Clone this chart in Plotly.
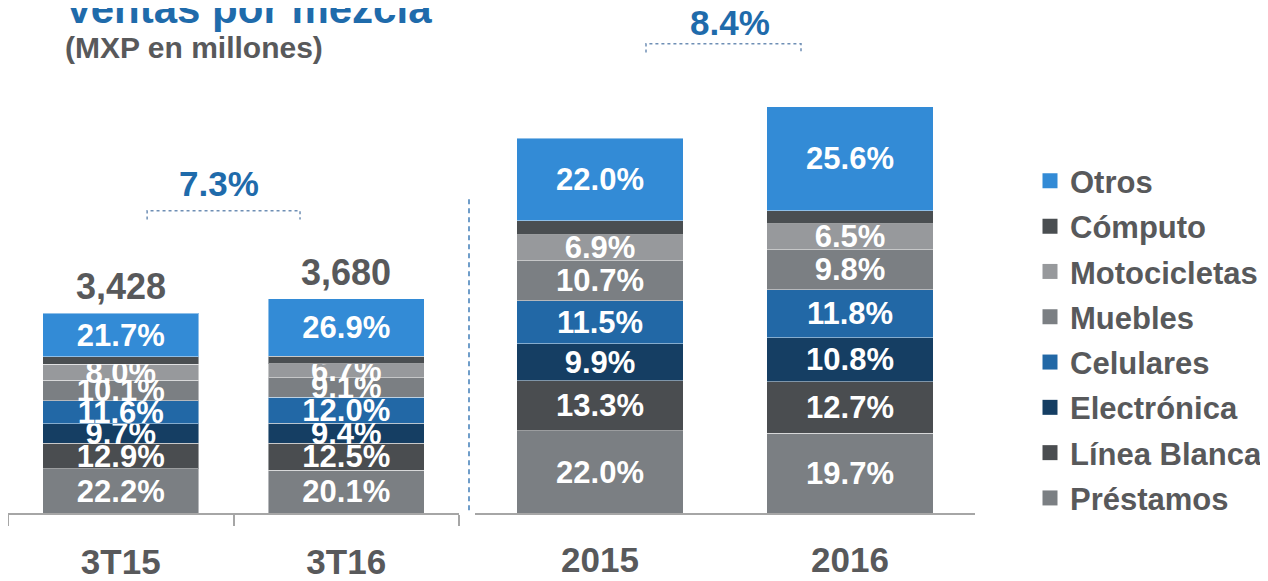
import plotly.graph_objects as go

# ---------------- data ----------------
segments = ['Préstamos', 'Línea Blanca', 'Electrónica', 'Celulares',
            'Muebles', 'Motocicletas', 'Cómputo', 'Otros']
periods_q = ['3T15', '3T16']
periods_y = ['2015', '2016']
totals_q = [3428, 3680]
totals_y = [10019, 10862]
pct_3T15 = [22.2, 12.9, 9.7, 11.6, 10.1, 8.0, 3.8, 21.7]
pct_3T16 = [20.1, 12.5, 9.4, 12.0, 9.1, 6.7, 3.3, 26.9]
pct_2015 = [22.0, 13.3, 9.9, 11.5, 10.7, 6.9, 3.7, 22.0]
pct_2016 = [19.7, 12.7, 10.8, 11.8, 9.8, 6.5, 3.1, 25.6]
show_label = [True, True, True, True, True, True, False, True]
growth_q = '7.3%'
growth_y = '8.4%'

colors = ['#7b7f83', '#4a4d50', '#153e63', '#2268a6',
          '#7b7f83', '#97999c', '#4a4e51', '#338bd6']

# page body has an 8px margin: figure is drawn from (8, 8)
OFF = 8
W, H = 1260, 573
FONT = 'Liberation Sans, Arial, sans-serif'
GRAY_TXT = '#58595b'
BLUE_TXT = '#1f6bab'


def py(p):
    return 1 - (p - OFF) / H


def px(p):
    return max(0.0, (p - OFF) / W)


fig = go.Figure()

for i, seg in enumerate(segments):
    for (periods, totals, pcts_list, xa, ya) in [
        (periods_q, totals_q, [pct_3T15, pct_3T16], 'x', 'y'),
        (periods_y, totals_y, [pct_2015, pct_2016], 'x2', 'y2'),
    ]:
        vals = [totals[k] * pcts_list[k][i] / 100 for k in range(2)]
        txt = [f'{pcts_list[k][i]:.1f}%' if show_label[i] else '' for k in range(2)]
        fig.add_trace(go.Bar(
            x=periods, y=vals, name=seg, legendgroup=seg, showlegend=False,
            xaxis=xa, yaxis=ya,
            marker=dict(color=colors[i], line=dict(color='rgba(255,255,255,0.45)', width=1)),
            width=0.69 if xa == 'x' else 0.667,
            text=txt, textposition='inside', insidetextanchor='middle',
            textangle=0, constraintext='none',
            textfont=dict(family=FONT, size=31, color='white', weight='bold'),
            hoverinfo='skip',
        ))
    # legend entry with a larger square key
    fig.add_trace(go.Scatter(
        x=[None], y=[None], mode='markers', name=seg, legendgroup=seg,
        legendrank=100 - i, showlegend=True, xaxis='x', yaxis='y',
        marker=dict(symbol='square', size=15, color=colors[i]),
        hoverinfo='skip',
    ))

base_px = 519.5
ydom = [(H - (base_px - OFF)) / H, 1.0]
fig.update_layout(
    width=W, height=H, margin=dict(l=0, r=0, t=0, b=0),
    paper_bgcolor='white', plot_bgcolor='white',
    barmode='stack', bargap=0.3,
    uniformtext=dict(minsize=31, mode='show'),
    font=dict(family=FONT, color=GRAY_TXT),
    xaxis=dict(domain=[px(8), px(459)], type='category', range=[-0.5, 1.5],
               showline=True, linecolor='#a6a6a6', linewidth=2,
               ticks='outside', tickson='boundaries', ticklen=11, tickwidth=2,
               tickcolor='#a6a6a6', showgrid=False, zeroline=False,
               tickfont=dict(family=FONT, size=35, color=GRAY_TXT, weight='bold'),
               ticklabelstandoff=17, anchor='y', fixedrange=True),
    yaxis=dict(domain=ydom, range=[0, (base_px - OFF) / 0.059], visible=False,
               anchor='x', fixedrange=True),
    xaxis2=dict(domain=[px(475), px(975)], type='category', range=[-0.5, 1.5],
                showline=True, linecolor='#a6a6a6', linewidth=2,
                ticks='', showgrid=False, zeroline=False,
                tickfont=dict(family=FONT, size=35, color=GRAY_TXT, weight='bold'),
                ticklabelstandoff=15, anchor='y2', fixedrange=True),
    yaxis2=dict(domain=ydom, range=[0, (base_px - OFF) / 0.03787], visible=False,
                anchor='x2', fixedrange=True),
    legend=dict(x=px(1030), y=py(156), xanchor='left', yanchor='top',
                traceorder='grouped', tracegroupgap=2, itemsizing='trace',
                font=dict(family=FONT, size=31, color=GRAY_TXT, weight='bold'),
                bgcolor='rgba(0,0,0,0)', itemclick=False, itemdoubleclick=False),
)

# totals above bars
for periods, totals, xa, ya in [(periods_q, totals_q, 'x', 'y'),
                                (periods_y, totals_y, 'x2', 'y2')]:
    for p, t in zip(periods, totals):
        fig.add_annotation(text=f'{t:,}', xref=xa, yref=ya, x=p, y=t,
                           xanchor='center', yanchor='bottom', yshift=4, showarrow=False,
                           font=dict(family=FONT, size=36, color=GRAY_TXT, weight='bold'))

# titles
fig.add_annotation(text='Ventas por mezcla', xref='paper', yref='paper',
                   x=px(63), y=py(9), xanchor='left', yanchor='middle', showarrow=False,
                   font=dict(family=FONT, size=42, color=BLUE_TXT, weight='bold'))
fig.add_annotation(text='(MXP en millones)', xref='paper', yref='paper',
                   x=px(63), y=py(48), xanchor='left', yanchor='middle', showarrow=False,
                   font=dict(family=FONT, size=30, color=GRAY_TXT, weight='bold'))

# growth brackets
for xa, x0, x1, xc, ytop, ybot, ytxt, label in [
    ('x', 0.117, 0.795, 0.437, 213.3, 222, 186, growth_q),
    ('x2', 0.184, 0.804, 0.52, 44.3, 53, 23, growth_y),
]:
    fig.add_shape(type='path', xref=xa, yref='paper',
                  path=f'M {x0},{py(ybot)} L {x0},{py(ytop)} L {x1},{py(ytop)} L {x1},{py(ybot)}',
                  line=dict(color='#6f8fb5', width=1.5, dash='dot'))
    fig.add_annotation(text=label, xref=xa, yref='paper', x=xc, y=py(ytxt),
                       xanchor='center', yanchor='middle', showarrow=False,
                       font=dict(family=FONT, size=35, color=BLUE_TXT, weight='bold'))

# vertical dashed separator
fig.add_shape(type='line', xref='paper', yref='paper',
              x0=px(469), x1=px(469), y0=py(201.7), y1=py(518),
              line=dict(color='#6f9dc9', width=2, dash='5px,4px'))

fig.write_html('out.html')
